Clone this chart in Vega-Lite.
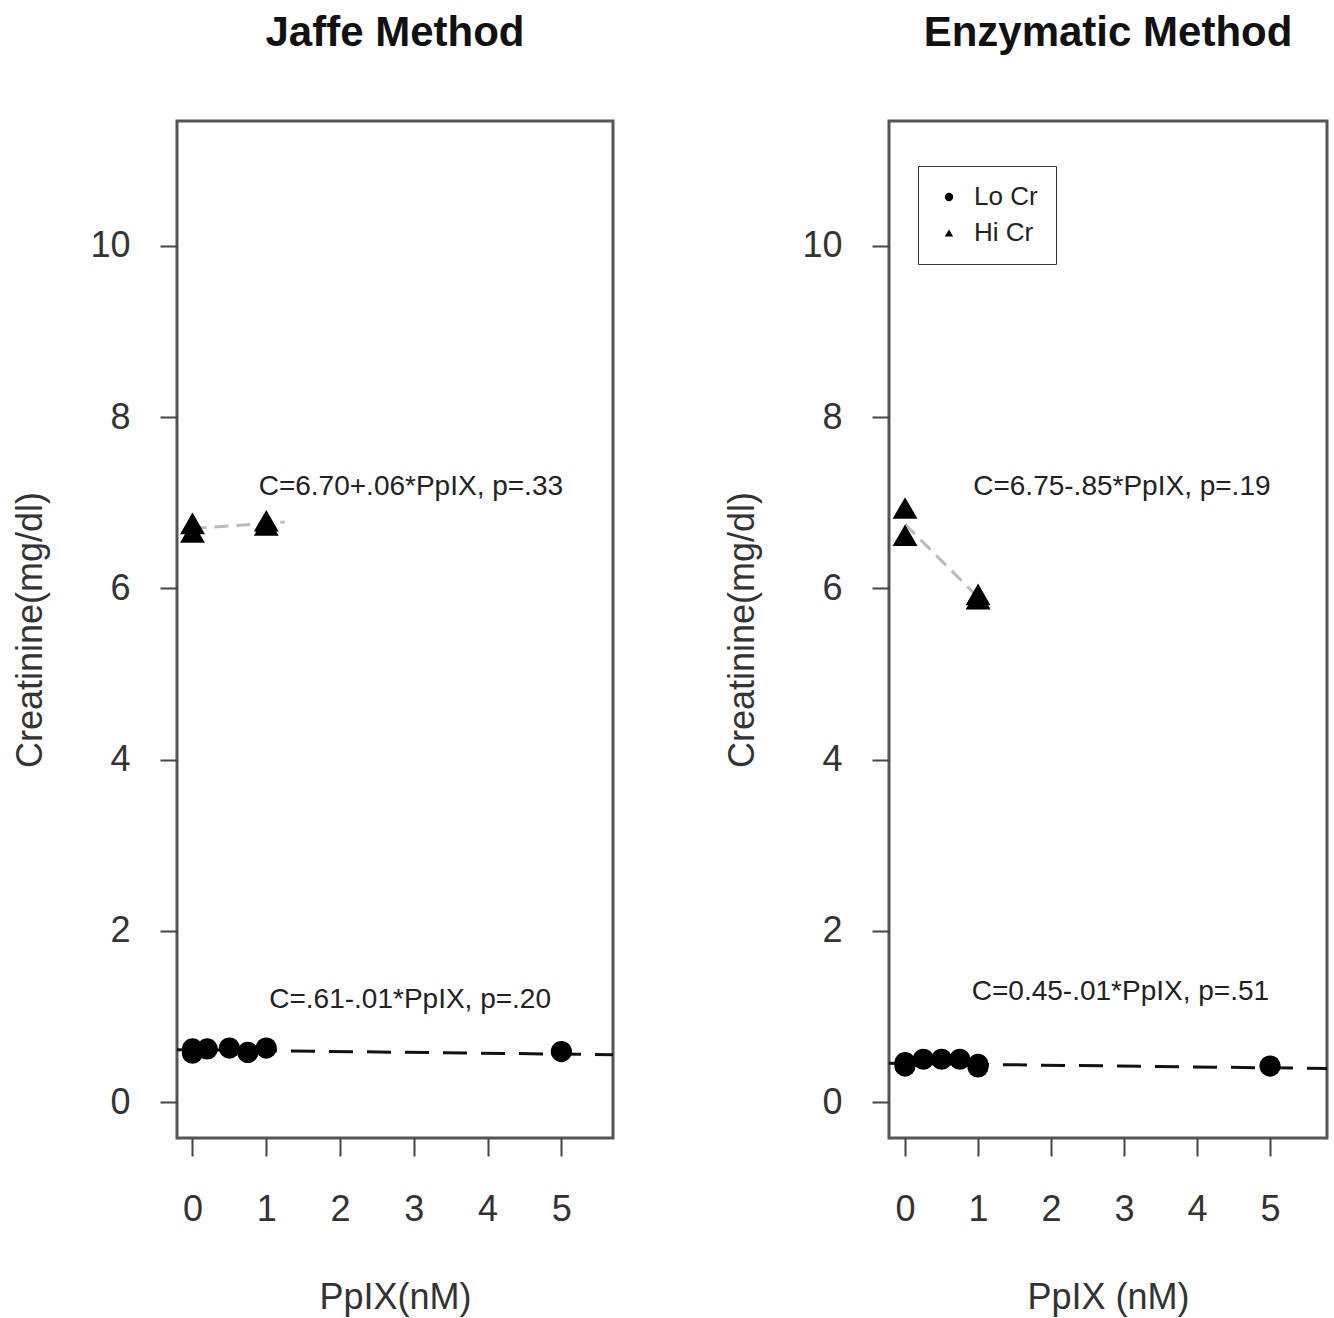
{
  "$schema": "https://vega.github.io/schema/vega-lite/v6.json",
  "background": "white",
  "padding": {"left": 11, "top": 10, "right": 5, "bottom": 5},
  "spacing": 108,
  "config": {
    "font": "Liberation Sans",
    "view": {"stroke": "#555", "strokeWidth": 3},
    "axis": {"grid": false, "domain": false, "tickColor": "#444", "tickWidth": 2, "labelFontSize": 36, "labelColor": "#333", "titleFontSize": 36, "titleFontWeight": "normal", "titleColor": "#333", "format": "d"},
    "title": {"fontSize": 42, "fontWeight": "bold", "color": "#111", "offset": 66}
  },
  "datasets": {
    "pts": [
      {"method": "Jaffe", "group": "Lo Cr", "x": 0, "y": 0.57},
      {"method": "Jaffe", "group": "Lo Cr", "x": 0, "y": 0.62},
      {"method": "Jaffe", "group": "Lo Cr", "x": 0.2, "y": 0.62},
      {"method": "Jaffe", "group": "Lo Cr", "x": 0.5, "y": 0.63},
      {"method": "Jaffe", "group": "Lo Cr", "x": 0.75, "y": 0.58},
      {"method": "Jaffe", "group": "Lo Cr", "x": 1, "y": 0.63},
      {"method": "Jaffe", "group": "Lo Cr", "x": 5, "y": 0.59},
      {"method": "Jaffe", "group": "Hi Cr", "x": 0, "y": 6.76},
      {"method": "Jaffe", "group": "Hi Cr", "x": 0, "y": 6.66},
      {"method": "Jaffe", "group": "Hi Cr", "x": 1, "y": 6.79},
      {"method": "Jaffe", "group": "Hi Cr", "x": 1, "y": 6.74},
      {"method": "Enzymatic", "group": "Lo Cr", "x": 0, "y": 0.42},
      {"method": "Enzymatic", "group": "Lo Cr", "x": 0, "y": 0.46},
      {"method": "Enzymatic", "group": "Lo Cr", "x": 0.25, "y": 0.50},
      {"method": "Enzymatic", "group": "Lo Cr", "x": 0.5, "y": 0.50},
      {"method": "Enzymatic", "group": "Lo Cr", "x": 0.75, "y": 0.50},
      {"method": "Enzymatic", "group": "Lo Cr", "x": 1, "y": 0.44},
      {"method": "Enzymatic", "group": "Lo Cr", "x": 1, "y": 0.41},
      {"method": "Enzymatic", "group": "Lo Cr", "x": 5, "y": 0.42},
      {"method": "Enzymatic", "group": "Hi Cr", "x": 0, "y": 6.94},
      {"method": "Enzymatic", "group": "Hi Cr", "x": 0, "y": 6.62},
      {"method": "Enzymatic", "group": "Hi Cr", "x": 1, "y": 5.93},
      {"method": "Enzymatic", "group": "Hi Cr", "x": 1, "y": 5.88}
    ],
    "fits": [
      {"method": "Jaffe", "group": "Lo Cr", "x": -0.21, "y": 0.612},
      {"method": "Jaffe", "group": "Lo Cr", "x": 5.7, "y": 0.553},
      {"method": "Jaffe", "group": "Hi Cr", "x": 0, "y": 6.70},
      {"method": "Jaffe", "group": "Hi Cr", "x": 1.25, "y": 6.775},
      {"method": "Enzymatic", "group": "Lo Cr", "x": -0.22, "y": 0.452},
      {"method": "Enzymatic", "group": "Lo Cr", "x": 5.78, "y": 0.392},
      {"method": "Enzymatic", "group": "Hi Cr", "x": 0, "y": 6.75},
      {"method": "Enzymatic", "group": "Hi Cr", "x": 1.16, "y": 5.76}
    ],
    "labels": [
      {"method": "Jaffe", "x": 2.96, "y": 7.18, "label": "C=6.70+.06*PpIX, p=.33"},
      {"method": "Jaffe", "x": 2.95, "y": 1.19, "label": "C=.61-.01*PpIX, p=.20"},
      {"method": "Enzymatic", "x": 2.97, "y": 7.18, "label": "C=6.75-.85*PpIX, p=.19"},
      {"method": "Enzymatic", "x": 2.95, "y": 1.28, "label": "C=0.45-.01*PpIX, p=.51"}
    ]
  },
  "resolve": {"legend": {"shape": "independent"}},
  "hconcat": [
    {
      "title": "Jaffe Method",
      "width": 436,
      "height": 1017,
      "layer": [
        {
          "data": {"name": "fits"},
          "transform": [{"filter": "datum.method === 'Jaffe' && datum.group === 'Lo Cr'"}],
          "mark": {"type": "line", "clip": true, "color": "#111", "strokeWidth": 3, "strokeDash": [24, 14]},
          "encoding": {
            "x": {"field": "x", "type": "quantitative", "scale": {"domain": [-0.21, 5.7], "nice": false, "zero": false}},
            "y": {"field": "y", "type": "quantitative", "scale": {"domain": [-0.42, 11.46], "nice": false, "zero": false}}
          }
        },
        {
          "data": {"name": "fits"},
          "transform": [{"filter": "datum.method === 'Jaffe' && datum.group === 'Hi Cr'"}],
          "mark": {"type": "line", "clip": true, "color": "#bbb", "strokeWidth": 3, "strokeDash": [14, 8]},
          "encoding": {
            "x": {"field": "x", "type": "quantitative"},
            "y": {"field": "y", "type": "quantitative"}
          }
        },
        {
          "data": {"name": "pts"},
          "transform": [{"filter": "datum.method === 'Jaffe'"}],
          "mark": {"type": "point", "filled": true, "color": "#000", "opacity": 1},
          "encoding": {
            "x": {"field": "x", "type": "quantitative", "axis": {"values": [0, 1, 2, 3, 4, 5], "tickSize": 18, "labelPadding": 36, "title": "PpIX(nM)", "titlePadding": 53}},
            "y": {"field": "y", "type": "quantitative", "axis": {"values": [0, 2, 4, 6, 8, 10], "tickSize": 17, "labelPadding": 30, "title": "Creatinine(mg/dl)", "titlePadding": 40}},
            "shape": {"field": "group", "type": "nominal", "scale": {"domain": ["Lo Cr", "Hi Cr"], "range": ["circle", "triangle-up"]}, "legend": null},
            "size": {"field": "group", "type": "nominal", "scale": {"domain": ["Lo Cr", "Hi Cr"], "range": [450, 620]}, "legend": null}
          }
        },
        {
          "data": {"name": "labels"},
          "transform": [{"filter": "datum.method === 'Jaffe'"}],
          "mark": {"type": "text", "fontSize": 28, "color": "#222", "align": "center", "baseline": "middle"},
          "encoding": {
            "x": {"field": "x", "type": "quantitative"},
            "y": {"field": "y", "type": "quantitative"},
            "text": {"field": "label"}
          }
        }
      ]
    },
    {
      "title": "Enzymatic Method",
      "width": 438,
      "height": 1017,
      "layer": [
        {
          "data": {"name": "fits"},
          "transform": [{"filter": "datum.method === 'Enzymatic' && datum.group === 'Lo Cr'"}],
          "mark": {"type": "line", "clip": true, "color": "#111", "strokeWidth": 3, "strokeDash": [24, 14]},
          "encoding": {
            "x": {"field": "x", "type": "quantitative", "scale": {"domain": [-0.22, 5.78], "nice": false, "zero": false}},
            "y": {"field": "y", "type": "quantitative", "scale": {"domain": [-0.42, 11.46], "nice": false, "zero": false}}
          }
        },
        {
          "data": {"name": "fits"},
          "transform": [{"filter": "datum.method === 'Enzymatic' && datum.group === 'Hi Cr'"}],
          "mark": {"type": "line", "clip": true, "color": "#bbb", "strokeWidth": 3, "strokeDash": [14, 8]},
          "encoding": {
            "x": {"field": "x", "type": "quantitative"},
            "y": {"field": "y", "type": "quantitative"}
          }
        },
        {
          "data": {"name": "pts"},
          "transform": [{"filter": "datum.method === 'Enzymatic'"}],
          "mark": {"type": "point", "filled": true, "color": "#000", "opacity": 1},
          "encoding": {
            "x": {"field": "x", "type": "quantitative", "axis": {"values": [0, 1, 2, 3, 4, 5], "tickSize": 18, "labelPadding": 36, "title": "PpIX (nM)", "titlePadding": 53}},
            "y": {"field": "y", "type": "quantitative", "axis": {"values": [0, 2, 4, 6, 8, 10], "tickSize": 17, "labelPadding": 30, "title": "Creatinine(mg/dl)", "titlePadding": 40}},
            "shape": {"field": "group", "type": "nominal", "scale": {"domain": ["Lo Cr", "Hi Cr"], "range": ["circle", "triangle-up"]},
              "legend": {"title": null, "orient": "none", "legendX": 29, "legendY": 45, "padding": 18, "strokeColor": "#333", "fillColor": "white", "labelFontSize": 26, "labelColor": "#222", "symbolSize": 70, "symbolFillColor": "#000", "symbolStrokeColor": "#000", "rowPadding": 10, "labelOffset": 12}},
            "size": {"field": "group", "type": "nominal", "scale": {"domain": ["Lo Cr", "Hi Cr"], "range": [450, 620]}, "legend": null}
          }
        },
        {
          "data": {"name": "labels"},
          "transform": [{"filter": "datum.method === 'Enzymatic'"}],
          "mark": {"type": "text", "fontSize": 28, "color": "#222", "align": "center", "baseline": "middle"},
          "encoding": {
            "x": {"field": "x", "type": "quantitative"},
            "y": {"field": "y", "type": "quantitative"},
            "text": {"field": "label"}
          }
        }
      ]
    }
  ]
}
